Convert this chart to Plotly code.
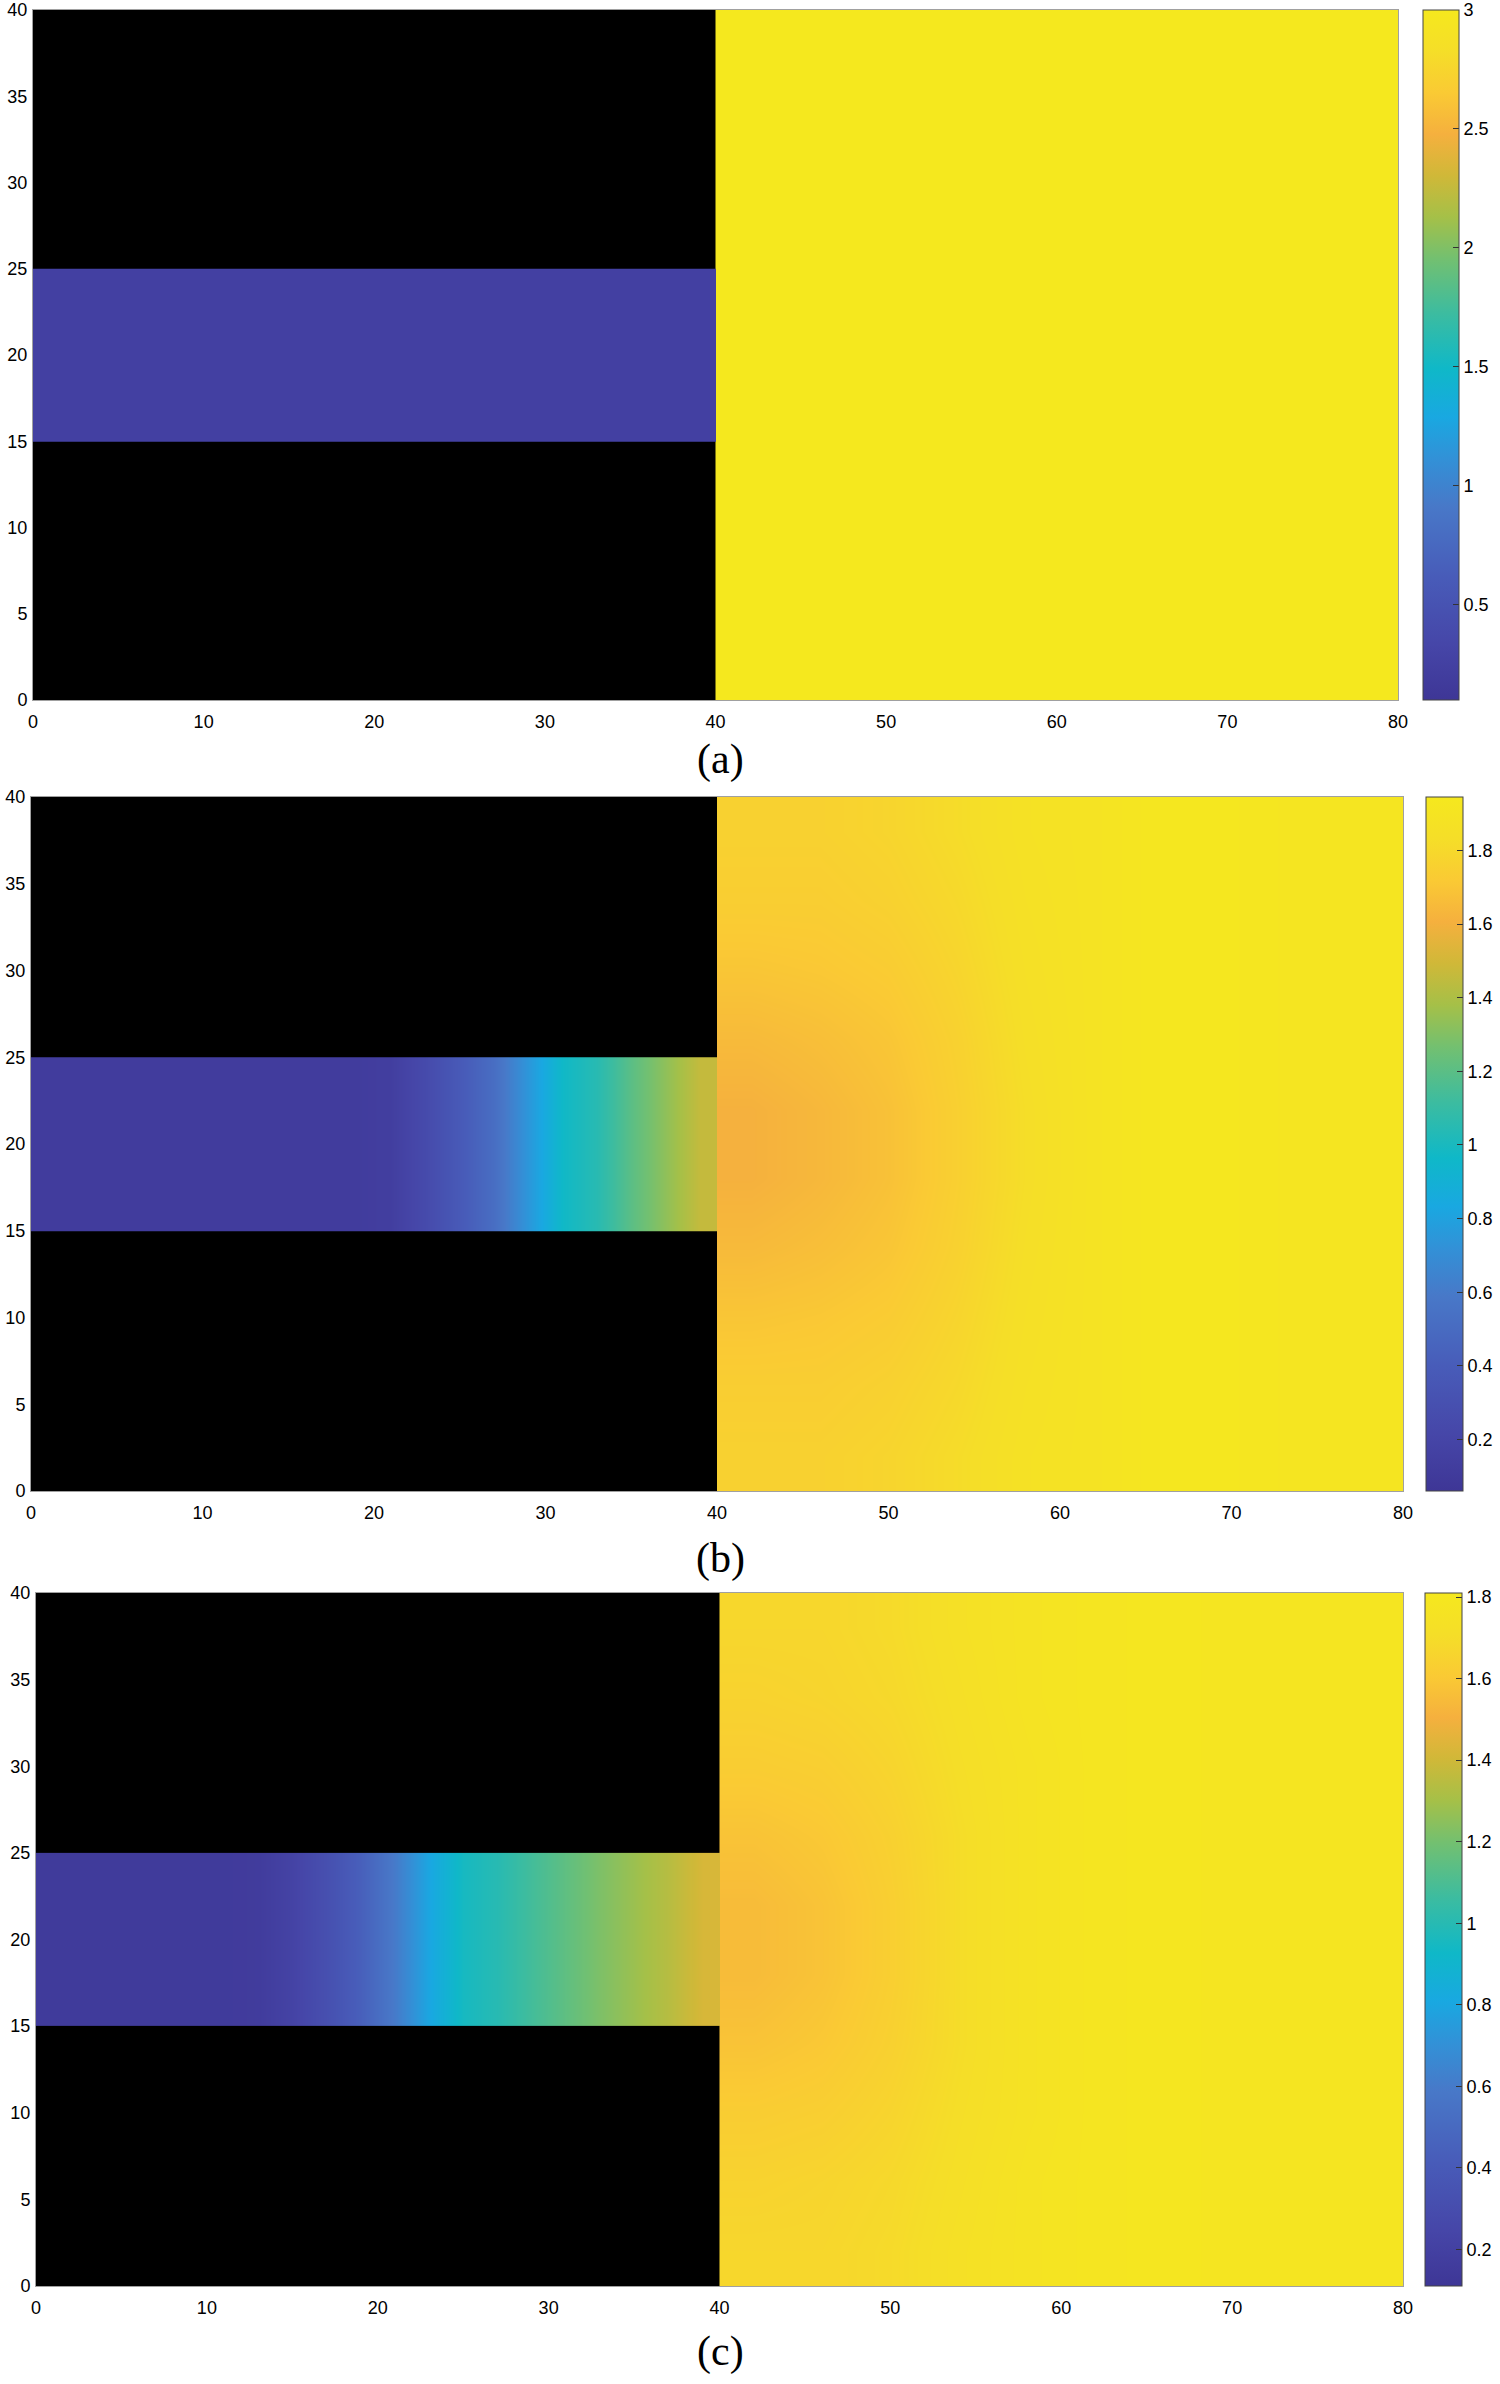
import plotly.graph_objects as go

# ---------------- data ----------------
# channel (0<=x<=40, 15<=y<=25): cell edges along x and values per cell
chan_x_edges = [0, 2, 4, 6, 8, 10, 12, 14, 16, 18, 20, 22, 24, 26, 28, 30, 32, 34, 36, 38, 40]
chan_y_edges = [15, 20, 25]

a_chan_vals = [0.25] * 20
b_chan_vals = [0.12, 0.12, 0.12, 0.12, 0.12, 0.12, 0.12, 0.12, 0.12, 0.12, 0.14,
               0.25, 0.38, 0.52, 0.75, 0.97, 1.05, 1.20, 1.33, 1.46]
c_chan_vals = [0.15, 0.15, 0.15, 0.15, 0.15, 0.15, 0.16, 0.22, 0.32, 0.44, 0.60,
               0.80, 0.95, 1.00, 1.08, 1.15, 1.22, 1.28, 1.34, 1.42]

# right domain (40<=x<=80, 0<=y<=40): cell edges and values (rows bottom -> top)
right_x_edges = [40, 44, 48, 52, 56, 60, 64, 68, 72, 76, 80]
right_y_edges = [0, 4, 8, 12, 16, 20, 24, 28, 32, 36, 40]

a_right_vals = [[3.0] * 10 for _ in range(10)]

b_right_vals = [
    [1.76, 1.76, 1.78, 1.82, 1.87, 1.89, 1.93, 1.93, 1.91, 1.91],
    [1.74, 1.74, 1.76, 1.80, 1.86, 1.89, 1.93, 1.93, 1.91, 1.91],
    [1.70, 1.71, 1.73, 1.78, 1.85, 1.89, 1.93, 1.93, 1.91, 1.91],
    [1.65, 1.67, 1.70, 1.76, 1.84, 1.89, 1.93, 1.93, 1.91, 1.91],
    [1.61, 1.64, 1.68, 1.75, 1.83, 1.89, 1.93, 1.93, 1.91, 1.91],
    [1.61, 1.64, 1.68, 1.75, 1.83, 1.89, 1.93, 1.93, 1.91, 1.91],
    [1.65, 1.67, 1.70, 1.76, 1.84, 1.89, 1.93, 1.93, 1.91, 1.91],
    [1.70, 1.71, 1.73, 1.78, 1.85, 1.89, 1.93, 1.93, 1.91, 1.91],
    [1.74, 1.74, 1.76, 1.80, 1.86, 1.89, 1.93, 1.93, 1.91, 1.91],
    [1.76, 1.76, 1.78, 1.82, 1.87, 1.89, 1.93, 1.93, 1.91, 1.91],
]

c_right_vals = [
    [1.67, 1.67, 1.69, 1.73, 1.76, 1.78, 1.79, 1.78, 1.78, 1.78],
    [1.65, 1.66, 1.68, 1.72, 1.76, 1.78, 1.79, 1.78, 1.78, 1.78],
    [1.62, 1.63, 1.66, 1.71, 1.75, 1.78, 1.79, 1.78, 1.78, 1.78],
    [1.58, 1.60, 1.64, 1.70, 1.75, 1.78, 1.79, 1.78, 1.78, 1.78],
    [1.55, 1.58, 1.63, 1.70, 1.75, 1.78, 1.79, 1.78, 1.78, 1.78],
    [1.55, 1.58, 1.63, 1.70, 1.75, 1.78, 1.79, 1.78, 1.78, 1.78],
    [1.58, 1.60, 1.64, 1.70, 1.75, 1.78, 1.79, 1.78, 1.78, 1.78],
    [1.62, 1.63, 1.66, 1.71, 1.75, 1.78, 1.79, 1.78, 1.78, 1.78],
    [1.65, 1.66, 1.68, 1.72, 1.76, 1.78, 1.79, 1.78, 1.78, 1.78],
    [1.67, 1.67, 1.69, 1.73, 1.76, 1.78, 1.79, 1.78, 1.78, 1.78],
]

# colour ranges and ticks
a_crange = [0.1, 3.0]
b_crange = [0.06, 1.945]
c_crange = [0.11, 1.81]
a_cticks = [0.5, 1, 1.5, 2, 2.5, 3]
b_cticks = [0.2, 0.4, 0.6, 0.8, 1, 1.2, 1.4, 1.6, 1.8]
c_cticks = [0.2, 0.4, 0.6, 0.8, 1, 1.2, 1.4, 1.6, 1.8]

x_ticks = [0, 10, 20, 30, 40, 50, 60, 70, 80]
y_ticks = [0, 5, 10, 15, 20, 25, 30, 35, 40]
captions = ["(a)", "(b)", "(c)"]

# ---------------- style ----------------
# parula-like scale as it appears in the reference
cscale = [
    [0.00, "rgb(62,54,150)"],
    [0.08, "rgb(70,70,168)"],
    [0.18, "rgb(72,92,185)"],
    [0.28, "rgb(72,120,200)"],
    [0.35, "rgb(50,145,215)"],
    [0.41, "rgb(25,168,225)"],
    [0.48, "rgb(15,184,200)"],
    [0.56, "rgb(60,188,160)"],
    [0.64, "rgb(115,192,112)"],
    [0.70, "rgb(165,192,72)"],
    [0.76, "rgb(208,184,56)"],
    [0.82, "rgb(245,176,62)"],
    [0.88, "rgb(250,202,52)"],
    [0.94, "rgb(245,222,40)"],
    [1.00, "rgb(245,232,30)"],
]

W, H = 1500, 2384
# pixel boxes of each panel in the screenshot: (left, right, top, bottom), colorbar left/right
panels = [
    dict(box=(33, 1398, 10, 700), cb=(1423, 1459), cap_y=760),
    dict(box=(31, 1403, 797, 1491), cb=(1426, 1463), cap_y=1558),
    dict(box=(36, 1403, 1593, 2286), cb=(1425, 1462), cap_y=2351),
]

chan_vals = [a_chan_vals, b_chan_vals, c_chan_vals]
right_vals = [a_right_vals, b_right_vals, c_right_vals]
cranges = [a_crange, b_crange, c_crange]
cticks = [a_cticks, b_cticks, c_cticks]

fig = go.Figure()
layout = dict(width=W, height=H,
              margin=dict(l=0, r=0, t=0, b=0, pad=0, autoexpand=False),
              paper_bgcolor="white", plot_bgcolor="black", showlegend=False,
              annotations=[])

tickfont = dict(family="Liberation Sans, Arial, sans-serif", size=18, color="black")

for i, p in enumerate(panels):
    k = "" if i == 0 else str(i + 1)
    xa, ya, ca = "x" + k, "y" + k, "coloraxis" + k
    l, r, t, b = p["box"]
    fig.add_trace(go.Heatmap(
        x=right_x_edges, y=right_y_edges, z=right_vals[i], zsmooth="best",
        coloraxis=ca, xaxis=xa, yaxis=ya, hoverinfo="skip"))
    fig.add_trace(go.Heatmap(
        x=chan_x_edges, y=chan_y_edges, z=[chan_vals[i], chan_vals[i]], zsmooth="best",
        coloraxis=ca, xaxis=xa, yaxis=ya, hoverinfo="skip"))

    layout["xaxis" + k] = dict(
        domain=[l / W, r / W], range=[0, 80], anchor=ya, tickvals=x_ticks,
        ticks="", showgrid=False, zeroline=False, showline=True, mirror=True,
        linecolor="#a0a0a0", linewidth=1, tickfont=tickfont, ticklabelstandoff=5)
    layout["yaxis" + k] = dict(
        domain=[1 - b / H, 1 - t / H], range=[0, 40], anchor=xa, tickvals=y_ticks,
        ticks="", showgrid=False, zeroline=False, showline=True, mirror=True,
        linecolor="#a0a0a0", linewidth=1, tickfont=tickfont, ticklabelstandoff=1)

    cbl, cbr = p["cb"]
    layout[ca] = dict(
        colorscale=cscale, cmin=cranges[i][0], cmax=cranges[i][1],
        colorbar=dict(
            x=cbl / W, xanchor="left", xref="paper",
            y=1 - (t + b) / 2 / H, yanchor="middle",
            len=(b - t) / H, lenmode="fraction", thickness=cbr - cbl, thicknessmode="pixels",
            outlinecolor="#444", outlinewidth=1, borderwidth=0, xpad=0, ypad=0,
            tickvals=cticks[i], ticks="inside", ticklen=6, tickcolor="#333",
            tickfont=tickfont))
    layout["annotations"].append(dict(
        text=captions[i], x=720 / W, y=1 - p["cap_y"] / H,
        xref="paper", yref="paper",
        showarrow=False, xanchor="center", yanchor="middle",
        font=dict(family="Liberation Serif, Times New Roman, serif", size=42, color="black")))

fig.update_layout(**layout)
# remove the default page margin so the figure sits at the window's top-left corner
fig.write_html("out.html", config={"displayModeBar": False},
               post_script="document.body.style.margin='0';")
